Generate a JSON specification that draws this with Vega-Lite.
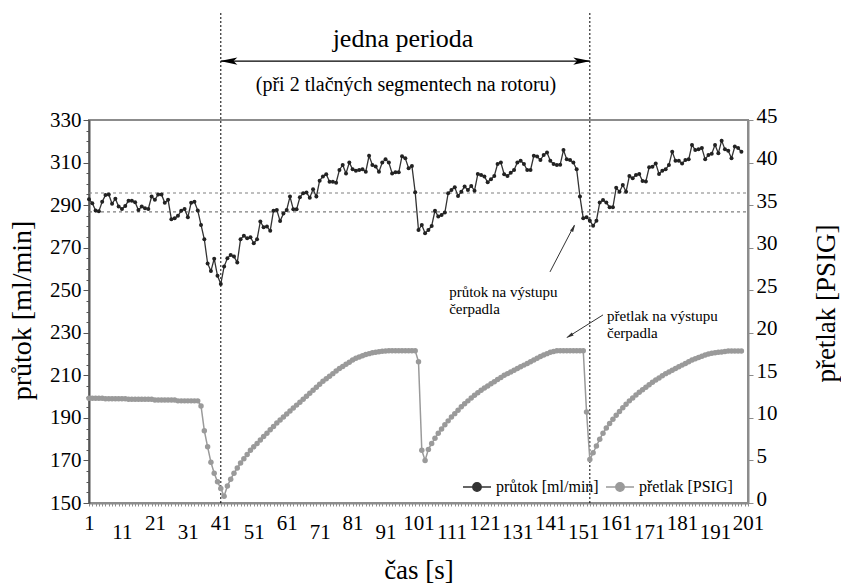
{
"$schema": "https://vega.github.io/schema/vega-lite/v6.json",
"autosize": "none",
"width": 659,
"height": 383,
"padding": {"left": 89, "top": 120, "right": 93, "bottom": 84},
"background": "white",
"config": {
  "font": "Liberation Serif",
  "view": {"stroke": "#8c8c8c", "strokeWidth": 2},
  "axis": {"labelColor": "black", "titleColor": "black", "titleFontWeight": "normal", "grid": false, "labelFont": "Liberation Serif", "titleFont": "Liberation Serif"}
},
"datasets": {
  "d": [
{"t":1,"prutok":292.7,"pretlak":12.3},{"t":2,"prutok":290.9,"pretlak":12.3},{"t":3,"prutok":287.5,"pretlak":12.3},{"t":4,"prutok":287.1,"pretlak":12.3},{"t":5,"prutok":291.6,"pretlak":12.3},
{"t":6,"prutok":294.7,"pretlak":12.25},{"t":7,"prutok":295,"pretlak":12.25},{"t":8,"prutok":290.6,"pretlak":12.25},{"t":9,"prutok":293,"pretlak":12.25},{"t":10,"prutok":289.3,"pretlak":12.25},
{"t":11,"prutok":288.2,"pretlak":12.25},{"t":12,"prutok":289.6,"pretlak":12.25},{"t":13,"prutok":292.1,"pretlak":12.2},{"t":14,"prutok":292.1,"pretlak":12.2},{"t":15,"prutok":291.4,"pretlak":12.2},
{"t":16,"prutok":287.7,"pretlak":12.2},{"t":17,"prutok":289.3,"pretlak":12.2},{"t":18,"prutok":288.5,"pretlak":12.2},{"t":19,"prutok":288.2,"pretlak":12.2},{"t":20,"prutok":294,"pretlak":12.2},
{"t":21,"prutok":292.5,"pretlak":12.1},{"t":22,"prutok":295,"pretlak":12.1},{"t":23,"prutok":295,"pretlak":12.1},{"t":24,"prutok":291.1,"pretlak":12.1},{"t":25,"prutok":292.5,"pretlak":12.1},
{"t":26,"prutok":283.4,"pretlak":12.1},{"t":27,"prutok":283.8,"pretlak":12.1},{"t":28,"prutok":285,"pretlak":12.0},{"t":29,"prutok":287.4,"pretlak":12.0},{"t":30,"prutok":288.2,"pretlak":12.0},
{"t":31,"prutok":284.3,"pretlak":12.0},{"t":32,"prutok":291.1,"pretlak":12.0},{"t":33,"prutok":291.6,"pretlak":12.0},{"t":34,"prutok":287.5,"pretlak":12.0},{"t":35,"prutok":280.7,"pretlak":11.4},
{"t":36,"prutok":273.9,"pretlak":8.5},{"t":37,"prutok":262.6,"pretlak":6.6},{"t":38,"prutok":259,"pretlak":4.8},{"t":39,"prutok":264.8,"pretlak":3.5},{"t":40,"prutok":256.8,"pretlak":2.5},
{"t":41,"prutok":252.9,"pretlak":1.7},{"t":42,"prutok":261.1,"pretlak":0.8},{"t":43,"prutok":265,"pretlak":2.0},{"t":44,"prutok":266.6,"pretlak":2.8},{"t":45,"prutok":265.8,"pretlak":3.5},
{"t":46,"prutok":263,"pretlak":4.1},{"t":47,"prutok":274,"pretlak":4.7},{"t":48,"prutok":275.6,"pretlak":5.2},{"t":49,"prutok":274.4,"pretlak":5.7},{"t":50,"prutok":274.9,"pretlak":6.2},
{"t":51,"prutok":272.1,"pretlak":6.6},{"t":52,"prutok":273.9,"pretlak":7.0},{"t":53,"prutok":282.3,"pretlak":7.4},{"t":54,"prutok":279.6,"pretlak":7.8},{"t":55,"prutok":279.9,"pretlak":8.2},
{"t":56,"prutok":278,"pretlak":8.6},{"t":57,"prutok":287.4,"pretlak":9.0},{"t":58,"prutok":287.7,"pretlak":9.4},{"t":59,"prutok":282.5,"pretlak":9.75},{"t":60,"prutok":286,"pretlak":10.1},
{"t":61,"prutok":287.7,"pretlak":10.45},{"t":62,"prutok":294,"pretlak":10.8},{"t":63,"prutok":288,"pretlak":11.15},{"t":64,"prutok":288,"pretlak":11.5},{"t":65,"prutok":293.7,"pretlak":11.85},
{"t":66,"prutok":295.6,"pretlak":12.2},{"t":67,"prutok":295.9,"pretlak":12.55},{"t":68,"prutok":293.5,"pretlak":12.9},{"t":69,"prutok":297.4,"pretlak":13.25},{"t":70,"prutok":294,"pretlak":13.6},
{"t":71,"prutok":301.5,"pretlak":13.95},{"t":72,"prutok":303.5,"pretlak":14.3},{"t":73,"prutok":304.5,"pretlak":14.6},{"t":74,"prutok":301,"pretlak":14.9},{"t":75,"prutok":301,"pretlak":15.2},
{"t":76,"prutok":300.5,"pretlak":15.5},{"t":77,"prutok":306.5,"pretlak":15.8},{"t":78,"prutok":308.9,"pretlak":16.05},{"t":79,"prutok":304.9,"pretlak":16.3},{"t":80,"prutok":310,"pretlak":16.55},
{"t":81,"prutok":306.8,"pretlak":16.8},{"t":82,"prutok":306.2,"pretlak":17.0},{"t":83,"prutok":306.5,"pretlak":17.15},{"t":84,"prutok":306.8,"pretlak":17.3},{"t":85,"prutok":305.7,"pretlak":17.45},
{"t":86,"prutok":313.2,"pretlak":17.55},{"t":87,"prutok":308.9,"pretlak":17.65},{"t":88,"prutok":308.1,"pretlak":17.72},{"t":89,"prutok":305.7,"pretlak":17.78},{"t":90,"prutok":310,"pretlak":17.82},
{"t":91,"prutok":311.5,"pretlak":17.86},{"t":92,"prutok":310,"pretlak":17.9},{"t":93,"prutok":304.9,"pretlak":17.9},{"t":94,"prutok":305.4,"pretlak":17.9},{"t":95,"prutok":305.4,"pretlak":17.9},
{"t":96,"prutok":313,"pretlak":17.9},{"t":97,"prutok":312,"pretlak":17.9},{"t":98,"prutok":307.3,"pretlak":17.9},{"t":99,"prutok":308.4,"pretlak":17.9},{"t":100,"prutok":296,"pretlak":17.9},
{"t":101,"prutok":278.3,"pretlak":16.6},{"t":102,"prutok":280.7,"pretlak":6.2},{"t":103,"prutok":276.8,"pretlak":5.0},{"t":104,"prutok":278.3,"pretlak":6.3},{"t":105,"prutok":280.2,"pretlak":7.0},
{"t":106,"prutok":287.4,"pretlak":7.6},{"t":107,"prutok":284.6,"pretlak":8.2},{"t":108,"prutok":285.4,"pretlak":8.7},{"t":109,"prutok":286.5,"pretlak":9.2},{"t":110,"prutok":295.6,"pretlak":9.65},
{"t":111,"prutok":297.1,"pretlak":10.1},{"t":112,"prutok":298.4,"pretlak":10.5},{"t":113,"prutok":294.3,"pretlak":10.9},{"t":114,"prutok":296.3,"pretlak":11.3},{"t":115,"prutok":298.7,"pretlak":11.65},
{"t":116,"prutok":297.1,"pretlak":12.0},{"t":117,"prutok":299,"pretlak":12.35},{"t":118,"prutok":296.8,"pretlak":12.65},{"t":119,"prutok":304.6,"pretlak":12.95},{"t":120,"prutok":304.2,"pretlak":13.25},
{"t":121,"prutok":303.4,"pretlak":13.5},{"t":122,"prutok":300.7,"pretlak":13.75},{"t":123,"prutok":302.1,"pretlak":14.0},{"t":124,"prutok":303.7,"pretlak":14.25},{"t":125,"prutok":309.3,"pretlak":14.5},
{"t":126,"prutok":310,"pretlak":14.75},{"t":127,"prutok":304.5,"pretlak":15.0},{"t":128,"prutok":303.7,"pretlak":15.2},{"t":129,"prutok":305.2,"pretlak":15.4},{"t":130,"prutok":306.5,"pretlak":15.6},
{"t":131,"prutok":310,"pretlak":15.8},{"t":132,"prutok":310.9,"pretlak":16.0},{"t":133,"prutok":309.3,"pretlak":16.2},{"t":134,"prutok":306.5,"pretlak":16.4},{"t":135,"prutok":306.5,"pretlak":16.6},
{"t":136,"prutok":313.2,"pretlak":16.8},{"t":137,"prutok":312.8,"pretlak":17.0},{"t":138,"prutok":311.2,"pretlak":17.2},{"t":139,"prutok":313.6,"pretlak":17.4},{"t":140,"prutok":314.7,"pretlak":17.55},
{"t":141,"prutok":310.9,"pretlak":17.7},{"t":142,"prutok":309.3,"pretlak":17.8},{"t":143,"prutok":308.9,"pretlak":17.9},{"t":144,"prutok":309,"pretlak":17.9},{"t":145,"prutok":315.9,"pretlak":17.9},
{"t":146,"prutok":311.5,"pretlak":17.9},{"t":147,"prutok":311.2,"pretlak":17.9},{"t":148,"prutok":310,"pretlak":17.9},{"t":149,"prutok":306.8,"pretlak":17.9},{"t":150,"prutok":294,"pretlak":17.9},
{"t":151,"prutok":283.8,"pretlak":17.9},{"t":152,"prutok":284.3,"pretlak":10.7},{"t":153,"prutok":282.7,"pretlak":5.1},{"t":154,"prutok":280.3,"pretlak":5.9},{"t":155,"prutok":282.7,"pretlak":6.7},
{"t":156,"prutok":291.2,"pretlak":7.5},{"t":157,"prutok":292.4,"pretlak":8.2},{"t":158,"prutok":291.2,"pretlak":8.8},{"t":159,"prutok":289,"pretlak":9.35},{"t":160,"prutok":289,"pretlak":9.85},
{"t":161,"prutok":298.2,"pretlak":10.3},{"t":162,"prutok":296.3,"pretlak":10.75},{"t":163,"prutok":299.5,"pretlak":11.2},{"t":164,"prutok":296.3,"pretlak":11.6},{"t":165,"prutok":303.7,"pretlak":12.0},
{"t":166,"prutok":302.6,"pretlak":12.35},{"t":167,"prutok":304.2,"pretlak":12.7},{"t":168,"prutok":304.6,"pretlak":13.0},{"t":169,"prutok":301.3,"pretlak":13.3},{"t":170,"prutok":301.1,"pretlak":13.6},
{"t":171,"prutok":307.8,"pretlak":13.9},{"t":172,"prutok":308,"pretlak":14.2},{"t":173,"prutok":309.6,"pretlak":14.45},{"t":174,"prutok":304.6,"pretlak":14.7},{"t":175,"prutok":306.2,"pretlak":14.95},
{"t":176,"prutok":306.8,"pretlak":15.2},{"t":177,"prutok":308.9,"pretlak":15.4},{"t":178,"prutok":315.1,"pretlak":15.6},{"t":179,"prutok":310.9,"pretlak":15.8},{"t":180,"prutok":310.9,"pretlak":16.0},
{"t":181,"prutok":309.6,"pretlak":16.2},{"t":182,"prutok":311.2,"pretlak":16.4},{"t":183,"prutok":311.5,"pretlak":16.6},{"t":184,"prutok":318.3,"pretlak":16.8},{"t":185,"prutok":315.9,"pretlak":16.95},
{"t":186,"prutok":316.2,"pretlak":17.1},{"t":187,"prutok":316.8,"pretlak":17.25},{"t":188,"prutok":311.5,"pretlak":17.4},{"t":189,"prutok":313.6,"pretlak":17.5},{"t":190,"prutok":314.1,"pretlak":17.6},
{"t":191,"prutok":318.3,"pretlak":17.65},{"t":192,"prutok":314.4,"pretlak":17.7},{"t":193,"prutok":320.3,"pretlak":17.75},{"t":194,"prutok":316.2,"pretlak":17.8},{"t":195,"prutok":315.6,"pretlak":17.85},
{"t":196,"prutok":312,"pretlak":17.85},{"t":197,"prutok":317.5,"pretlak":17.85},{"t":198,"prutok":316.8,"pretlak":17.85},{"t":199,"prutok":315.1,"pretlak":17.85}
  ]
},
"layer": [
  {
    "layer": [
      {
        "data": {"values": [{"v": 295.7}, {"v": 286.8}]},
        "mark": {"type": "rule", "color": "#808080", "strokeWidth": 1.2, "strokeDash": [3, 3]},
        "encoding": {
          "x": {"datum": 1, "type": "quantitative", "scale": {"domain": [1, 201], "nice": false, "zero": false}},
          "x2": {"datum": 201},
          "y": {"field": "v", "type": "quantitative", "scale": {"domain": [150, 330], "nice": false, "zero": false}}
        }
      },
      {
        "data": {"values": [{"t": 41}, {"t": 153}]},
        "mark": {"type": "rule", "color": "black", "strokeWidth": 1, "strokeDash": [2, 2], "clip": false},
        "encoding": {
          "x": {"field": "t", "type": "quantitative", "scale": {"domain": [1, 201], "nice": false, "zero": false}},
          "y": {"datum": 150, "type": "quantitative", "scale": {"domain": [150, 330], "nice": false, "zero": false}},
          "y2": {"datum": 381}
        }
      },
      {
        "data": {"values": [{"t1": 41, "t2": 153, "v": 357.7}]},
        "mark": {"type": "rule", "color": "black", "strokeWidth": 1.3, "clip": false},
        "encoding": {
          "x": {"field": "t1", "type": "quantitative", "scale": {"domain": [1, 201], "nice": false, "zero": false}},
          "x2": {"field": "t2"},
          "y": {"field": "v", "type": "quantitative", "scale": {"domain": [150, 330], "nice": false, "zero": false}}
        }
      },
      {
        "data": {"values": [{"t": 43.4, "v": 357.7, "dir": "L"}, {"t": 150.6, "v": 357.7, "dir": "R"}]},
        "mark": {"type": "point", "filled": true, "color": "black", "opacity": 1, "size": 300, "clip": false},
        "encoding": {
          "x": {"field": "t", "type": "quantitative", "scale": {"domain": [1, 201], "nice": false, "zero": false}},
          "y": {"field": "v", "type": "quantitative", "scale": {"domain": [150, 330], "nice": false, "zero": false}},
          "shape": {"field": "dir", "type": "nominal", "scale": {"domain": ["L", "R"], "range": ["M-1,0L1,-0.42L0.55,0L1,0.42Z", "M1,0L-1,-0.42L-0.55,0L-1,0.42Z"]}, "legend": null}
        }
      },
      {
        "data": {"values": [{"t": 96.3, "v": 368.2, "s": "jedna perioda"}]},
        "mark": {"type": "text", "fontSize": 26, "align": "center", "baseline": "middle", "color": "black", "clip": false},
        "encoding": {
          "x": {"field": "t", "type": "quantitative", "scale": {"domain": [1, 201], "nice": false, "zero": false}},
          "y": {"field": "v", "type": "quantitative", "scale": {"domain": [150, 330], "nice": false, "zero": false}},
          "text": {"field": "s"}
        }
      },
      {
        "data": {"values": [{"t": 97.2, "v": 346.4, "s": "(při 2 tlačných segmentech na rotoru)"}]},
        "mark": {"type": "text", "fontSize": 20, "align": "center", "baseline": "middle", "color": "black", "clip": false},
        "encoding": {
          "x": {"field": "t", "type": "quantitative", "scale": {"domain": [1, 201], "nice": false, "zero": false}},
          "y": {"field": "v", "type": "quantitative", "scale": {"domain": [150, 330], "nice": false, "zero": false}},
          "text": {"field": "s"}
        }
      },
      {
        "data": {"values": [{"t1": 140.9, "v1": 258.6, "t2": 148.3, "v2": 280.6}, {"t1": 157, "v1": 238.4, "t2": 146.2, "v2": 227.9}]},
        "mark": {"type": "rule", "color": "#333333", "strokeWidth": 1},
        "encoding": {
          "x": {"field": "t1", "type": "quantitative", "scale": {"domain": [1, 201], "nice": false, "zero": false}},
          "x2": {"field": "t2"},
          "y": {"field": "v1", "type": "quantitative", "scale": {"domain": [150, 330], "nice": false, "zero": false}},
          "y2": {"field": "v2"}
        }
      },
      {
        "data": {"values": [{"t": 148.0, "v": 279.3, "a": 27.5}, {"t": 146.8, "v": 228.5, "a": 238}]},
        "mark": {"type": "point", "filled": true, "color": "#333333", "opacity": 1, "size": 60, "shape": "M0,-1L0.45,1L-0.45,1Z"},
        "encoding": {
          "x": {"field": "t", "type": "quantitative", "scale": {"domain": [1, 201], "nice": false, "zero": false}},
          "y": {"field": "v", "type": "quantitative", "scale": {"domain": [150, 330], "nice": false, "zero": false}},
          "angle": {"field": "a", "type": "quantitative", "scale": null}
        }
      },
      {
        "data": {"values": [{"t": 110.3, "v": 252.5, "s": "průtok na výstupu\nčerpadla"}, {"t": 158.2, "v": 241.2, "s": "přetlak na výstupu\nčerpadla"}]},
        "mark": {"type": "text", "fontSize": 15, "align": "left", "baseline": "top", "lineBreak": "\n", "lineHeight": 17, "color": "black"},
        "encoding": {
          "x": {"field": "t", "type": "quantitative", "scale": {"domain": [1, 201], "nice": false, "zero": false}},
          "y": {"field": "v", "type": "quantitative", "scale": {"domain": [150, 330], "nice": false, "zero": false}},
          "text": {"field": "s"}
        }
      },
      {
        "data": {"name": "d"},
        "mark": {"type": "line", "strokeWidth": 1.3},
        "encoding": {
          "x": {
            "field": "t", "type": "quantitative",
            "scale": {"domain": [1, 201], "nice": false, "zero": false},
            "axis": {
              "orient": "bottom", "tickCount": 200,
              "labelExpr": "(datum.value-1)%20==10 ? ['', datum.label] : ((datum.value-1)%20==0 ? datum.label : '')",
              "labelLineHeight": 9,
              "labelOverlap": false, "labelFlush": false, "labelFontSize": 21, "labelPadding": 6,
              "tickSize": 3, "tickColor": "#8c8c8c", "domainColor": "#8c8c8c", "domainWidth": 2,
              "title": "čas [s]", "titleFontSize": 27, "titleY": 67, "titleBaseline": "middle"
            }
          },
          "y": {
            "field": "prutok", "type": "quantitative",
            "scale": {"domain": [150, 330], "nice": false, "zero": false},
            "axis": {
              "orient": "left", "tickCount": 36, "labelExpr": "(datum.value-150)%20==0 ? datum.label : ''",
              "labelOverlap": false, "labelFontSize": 21, "labelPadding": 2,
              "tickSize": {"condition": {"test": "(datum.value-150)%20==0", "value": 6}, "value": 3},
              "tickColor": "#555555", "domainColor": "#555555", "domainWidth": 2,
              "title": "průtok [ml/min]", "titleFontSize": 28, "titleAngle": -90, "titleX": -67, "titleY": 190,
              "titleAlign": "center", "titleBaseline": "middle"
            }
          },
          "color": {
            "datum": "průtok [ml/min]", "type": "nominal",
            "scale": {"domain": ["průtok [ml/min]", "přetlak [PSIG]"], "range": ["#333333", "#9a9a9a"]},
            "legend": {
              "orient": "none", "legendX": 373, "legendY": 352, "direction": "horizontal", "title": null,
              "labelFontSize": 16, "labelColor": "black", "labelFont": "Liberation Serif",
              "symbolType": "M-1,0L1,0M-0.3,0A0.3,0.3,0,1,0,0.3,0A0.3,0.3,0,1,0,-0.3,0",
              "symbolSize": 784, "symbolStrokeWidth": 1.5, "columnPadding": 4, "labelOffset": 4,
              "encode": {"symbols": {"update": {"fill": {"scale": "color", "field": "value"}}}}
            }
          }
        }
      },
      {
        "data": {"name": "d"},
        "mark": {"type": "point", "filled": true, "color": "#222222", "opacity": 1, "size": 16},
        "encoding": {
          "x": {"field": "t", "type": "quantitative", "scale": {"domain": [1, 201], "nice": false, "zero": false}},
          "y": {"field": "prutok", "type": "quantitative", "scale": {"domain": [150, 330], "nice": false, "zero": false}}
        }
      }
    ]
  },
  {
    "layer": [
      {
        "data": {"name": "d"},
        "mark": {"type": "line", "strokeWidth": 1.5},
        "encoding": {
          "x": {"field": "t", "type": "quantitative", "scale": {"domain": [1, 201], "nice": false, "zero": false}},
          "y": {
            "field": "pretlak", "type": "quantitative",
            "scale": {"domain": [0, 45], "nice": false, "zero": false},
            "axis": {
              "orient": "right", "values": [0, 5, 10, 15, 20, 25, 30, 35, 40, 45],
              "labelFontSize": 21, "labelPadding": 3, "labelOffset": -4, "tickSize": 5, "tickColor": "#8c8c8c",
              "domainColor": "#8c8c8c", "domainWidth": 2,
              "title": "přetlak [PSIG]", "titleFontSize": 27, "titleAngle": -90, "titleX": 78, "titleY": 183,
              "titleAlign": "center", "titleBaseline": "middle"
            }
          },
          "color": {"datum": "přetlak [PSIG]", "type": "nominal"}
        }
      },
      {
        "data": {"name": "d"},
        "mark": {"type": "point", "filled": true, "color": "#9a9a9a", "opacity": 1, "size": 30},
        "encoding": {
          "x": {"field": "t", "type": "quantitative", "scale": {"domain": [1, 201], "nice": false, "zero": false}},
          "y": {"field": "pretlak", "type": "quantitative", "scale": {"domain": [0, 45], "nice": false, "zero": false}}
        }
      }
    ]
  }
],
"resolve": {"scale": {"y": "independent"}}
}
